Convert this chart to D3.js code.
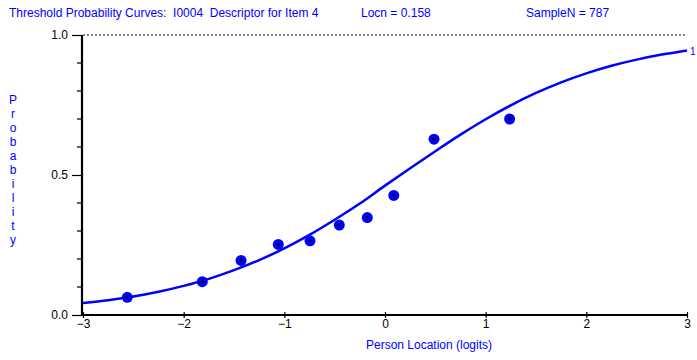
<!DOCTYPE html>
<html>
<head>
<meta charset="utf-8">
<script src="https://cdn.jsdelivr.net/npm/d3@7"></script>
<style>
  body { margin: 0; background: #fff; }
  svg { display: block; font-family: "Liberation Sans", Arial, sans-serif; }
</style>
</head>
<body>
<svg id="chart" width="697" height="360"></svg>
<script>
// Data
const curveX = [-3, -2.75, -2.5, -2.25, -2, -1.75, -1.5, -1.25, -1, -0.75, -0.5, -0.25, 0,
  0.25, 0.5, 0.75, 1, 1.25, 1.5, 1.75, 2, 2.25, 2.5, 2.75, 3];
const curveP = [0.043, 0.053, 0.066, 0.083, 0.104, 0.129, 0.160, 0.196, 0.238, 0.286, 0.340, 0.398, 0.462,
  0.524, 0.585, 0.644, 0.699, 0.749, 0.793, 0.831, 0.863, 0.890, 0.912, 0.930, 0.945];
const obsX = [-2.56, -1.815, -1.43, -1.06, -0.745, -0.454, -0.176, 0.087, 0.487, 1.238];
const obsP = [0.063, 0.119, 0.195, 0.252, 0.265, 0.321, 0.348, 0.427, 0.628, 0.700];
const xTicks = [-3, -2, -1, 0, 1, 2, 3];
const yMajor = [0, 0.5, 1];
const yMinor = [0.1, 0.2, 0.3, 0.4, 0.6, 0.7, 0.8, 0.9];

const blue = '#0000ff';
const svg = d3.select('#chart');

const x = d3.scaleLinear().domain([-3, 3]).range([83, 687]);
const y = d3.scaleLinear().domain([0, 1]).range([315, 35]);

// Header texts (nbsp keeps the double spaces)
const header = svg.append('g').attr('fill', blue).attr('font-size', '12px');
header.append('text').attr('x', 9).attr('y', 17)
  .text('Threshold Probability Curves:\u00a0 I0004\u00a0 Descriptor for Item 4');
header.append('text').attr('x', 361).attr('y', 17).text('Locn = 0.158');
header.append('text').attr('x', 526).attr('y', 17).text('SampleN = 787');

// Dashed line at 1.0
svg.append('line')
  .attr('x1', x(-3)).attr('x2', x(3))
  .attr('y1', y(1)).attr('y2', y(1))
  .attr('stroke', '#000').attr('stroke-width', 1)
  .attr('stroke-dasharray', '2,2');

// Y axis
const yAxis = svg.append('g').attr('transform', `translate(${x(-3) - 1},0)`);
yAxis.call(d3.axisLeft(y).tickValues(yMajor).tickSize(10).tickFormat(d3.format('.1f')));
yAxis.call(g => g.select('.domain').remove());
yAxis.selectAll('.tick line').attr('stroke-width', 1.2);
yAxis.selectAll('.tick text').attr('font-size', '12px').attr('fill', '#000')
  .attr('font-family', '"Liberation Sans", Arial, sans-serif').attr('x', -14);
yAxis.selectAll('.minor').data(yMinor).enter().append('line')
  .attr('x1', -5).attr('x2', 0)
  .attr('y1', d => y(d)).attr('y2', d => y(d))
  .attr('stroke', '#000').attr('stroke-width', 1.2);
yAxis.append('line')
  .attr('x1', 0).attr('x2', 0).attr('y1', y(1)).attr('y2', y(0) + 1)
  .attr('stroke', '#000').attr('stroke-width', 2.2);

// X axis
const xAxis = svg.append('g').attr('transform', `translate(0,${y(0)})`);
xAxis.call(d3.axisBottom(x).tickValues(xTicks).tickSize(3).tickFormat(d3.format('d')));
xAxis.select('.domain').remove();
xAxis.selectAll('.tick line').attr('y1', -3).attr('y2', 3).attr('stroke-width', 1.2);
xAxis.selectAll('.tick text').attr('font-size', '12px').attr('fill', '#000')
  .attr('font-family', '"Liberation Sans", Arial, sans-serif').attr('y', 4);
xAxis.append('line')
  .attr('x1', x(-3) - 2).attr('x2', x(3)).attr('y1', 0).attr('y2', 0)
  .attr('stroke', '#000').attr('stroke-width', 2.2);

// Axis titles
svg.append('text')
  .attr('x', 429).attr('y', 349)
  .attr('text-anchor', 'middle')
  .attr('fill', blue).attr('font-size', '12px')
  .text('Person Location (logits)');

const yLabel = 'Probability'.split('');
svg.append('g').attr('fill', blue).attr('font-size', '12px').attr('text-anchor', 'middle')
  .selectAll('text').data(yLabel).enter().append('text')
  .attr('x', 13)
  .attr('y', (d, i) => 104 + i * 14)
  .text(d => d);

// Threshold probability curve
const line = d3.line().x(d => x(d[0])).y(d => y(d[1])).curve(d3.curveMonotoneX);
svg.append('path')
  .datum(d3.zip(curveX, curveP))
  .attr('d', line)
  .attr('fill', 'none')
  .attr('stroke', blue)
  .attr('stroke-width', 2.5);

// curve label, kept inside the frame
svg.append('text')
  .attr('x', 690).attr('y', 55)
  .attr('fill', blue).attr('font-size', '10px')
  .text('1');

// Observed proportions
const dots = svg.append('g').selectAll('g').data(d3.zip(obsX, obsP)).enter().append('g')
  .attr('transform', d => `translate(${x(d[0])},${y(d[1])})`);
dots.append('circle').attr('r', 5.5).attr('fill', blue);
dots.append('path').attr('d', 'M-2,0H2M0,-2V2').attr('stroke', '#000').attr('stroke-width', 1);
</script>
</body>
</html>
